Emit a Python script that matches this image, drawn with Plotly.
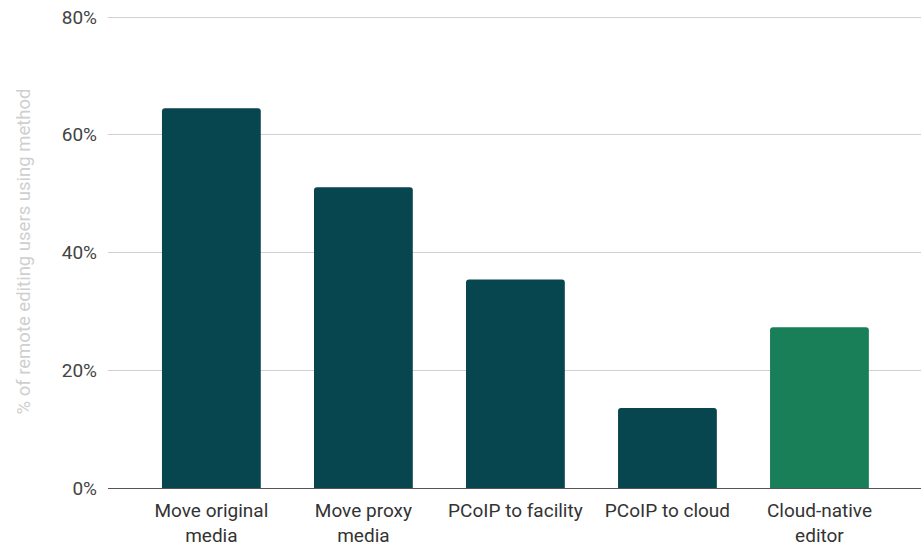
import plotly.graph_objects as go

categories = ["Move original<br>media", "Move proxy<br>media", "PCoIP to facility", "PCoIP to cloud", "Cloud-native<br>editor"]
values = [64.5, 51.1, 35.4, 13.6, 27.3]
colors = ["#08464f", "#08464f", "#08464f", "#08464f", "#187f58"]
y_ticks = [0, 20, 40, 60, 80]
y_tick_labels = ["0%", "20%", "40%", "60%", "80%"]

fig = go.Figure(go.Bar(
    x=categories, y=values, marker_color=colors, marker_line_width=0,
    hoverinfo="x+y",
))

fig.update_layout(
    width=921, height=543,
    margin=dict(l=108, r=0, t=15, b=55),
    paper_bgcolor="white", plot_bgcolor="white",
    bargap=0.35,
    barcornerradius=3,
    showlegend=False,
    font=dict(family="Roboto", size=19, color="#333333"),
    xaxis=dict(
        range=[-0.68, 4.668],
        showgrid=False,
        showline=True, linecolor="#555555", linewidth=1,
        tickfont=dict(size=19, color="#333333"),
        ticks="",
        ticklabelstandoff=5,
        automargin=False,
    ),
    yaxis=dict(
        range=[0, 80.34],
        tickvals=y_ticks, ticktext=y_tick_labels,
        showgrid=True, gridcolor="#d0d0d0", gridwidth=1,
        zeroline=False,
        tickfont=dict(size=19, color="#444444"),
        ticklabelstandoff=10,
        title=dict(text="% of remote editing users using method",
                   font=dict(size=18.5, color="#cfcfcf"), standoff=26),
        automargin=False,
    ),
)

fig.write_html("out.html", config={"displayModeBar": False},
               post_script="document.body.style.margin='0';document.body.style.overflow='hidden';")
